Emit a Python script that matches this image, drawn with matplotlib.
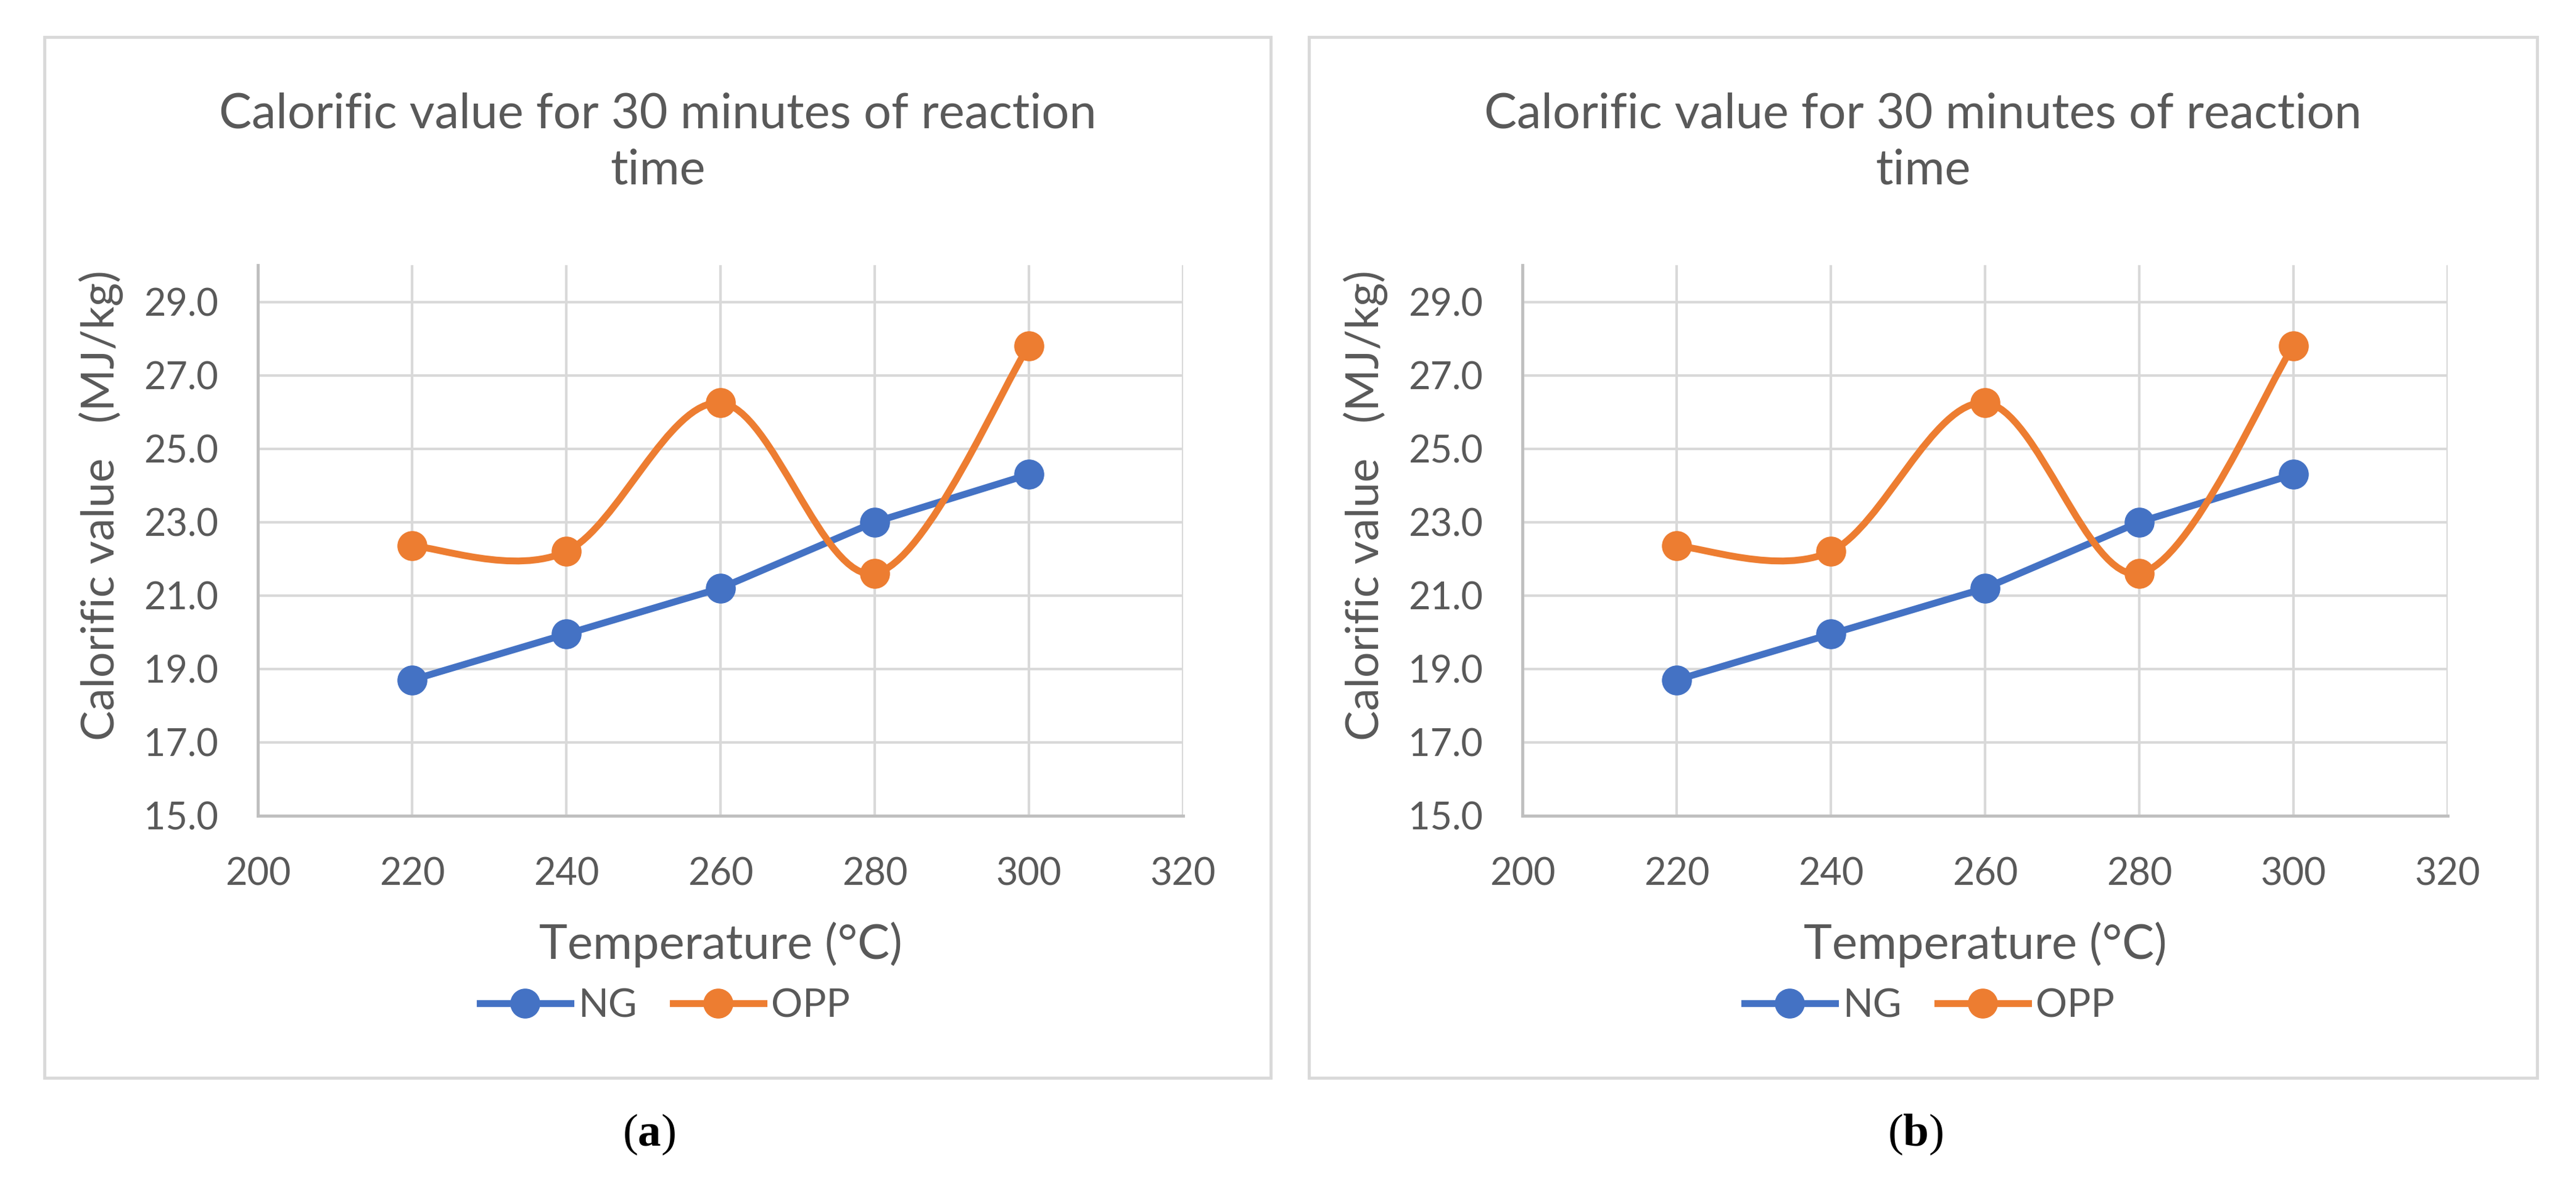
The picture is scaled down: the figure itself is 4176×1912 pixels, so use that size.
import matplotlib
matplotlib.use("Agg")
import matplotlib.pyplot as plt
from matplotlib.path import Path
from matplotlib.patches import PathPatch, Rectangle
from matplotlib.lines import Line2D

# Data
temperatures = [220, 240, 260, 280, 300]
ng_values = [18.7, 19.95, 21.2, 23.0, 24.3]
opp_values = [22.35, 22.2, 26.25, 21.6, 27.8]
series_names = ["NG", "OPP"]
x_ticks = [200, 220, 240, 260, 280, 300, 320]
y_ticks = [15.0, 17.0, 19.0, 21.0, 23.0, 25.0, 27.0, 29.0]
chart_title = "Calorific value for 30 minutes of reaction\ntime"
x_title = "Temperature (°C)"
y_title = "Calorific value   (MJ/kg)"
captions = ["a", "b"]

BLUE = "#4472C4"
ORANGE = "#ED7D31"
TEXT = "#595959"
GRID = "#D9D9D9"
AXIS = "#BFBFBF"

plt.rcParams['font.family'] = ['Lato', 'DejaVu Sans']
plt.rcParams['mathtext.fontset'] = 'custom'
plt.rcParams['mathtext.rm'] = 'Liberation Serif'
plt.rcParams['mathtext.bf'] = 'Liberation Serif:bold'

W, H = 4176, 1912
fig = plt.figure(figsize=(W / 100, H / 100), dpi=100)


def smooth_path(xs, ys):
    """Excel-style smoothed line: cubic Bezier segments through the points."""
    pts = list(zip(xs, ys))
    verts = [pts[0]]
    codes = [Path.MOVETO]
    n = len(pts)
    for i in range(n - 1):
        p0 = pts[i - 1] if i > 0 else pts[i]
        p1 = pts[i]
        p2 = pts[i + 1]
        p3 = pts[i + 2] if i + 2 < n else pts[i + 1]
        c1 = (p1[0] + (p2[0] - p0[0]) / 6, p1[1] + (p2[1] - p0[1]) / 6)
        c2 = (p2[0] - (p3[0] - p1[0]) / 6, p2[1] - (p3[1] - p1[1]) / 6)
        verts += [c1, c2, p2]
        codes += [Path.CURVE4, Path.CURVE4, Path.CURVE4]
    return Path(verts, codes)


def draw_chart(frame_left, frame_right, axes_left, caption, caption_x):
    # outer chart border
    fig.patches.append(Rectangle((frame_left / W, 1 - 1748 / H),
                                 (frame_right - frame_left) / W, (1748 - 60) / H,
                                 transform=fig.transFigure, fill=False,
                                 edgecolor=GRID, linewidth=3.5))

    ax = fig.add_axes([axes_left / W, 1 - 1323 / H, 1500 / W, 893 / H])
    ax.set_xlim(200, 320)
    ax.set_ylim(15, 30)
    ax.set_xticks(x_ticks)
    ax.set_yticks(y_ticks)
    ax.set_yticklabels([f"{v:.1f}" for v in y_ticks])
    ax.grid(True, color=GRID, linewidth=3.0)
    ax.set_axisbelow(True)
    for side in ["top", "right"]:
        ax.spines[side].set_visible(False)
    for side in ["left", "bottom"]:
        ax.spines[side].set_color(AXIS)
        ax.spines[side].set_linewidth(3.5)
    ax.tick_params(length=0, labelsize=44, labelcolor=TEXT)
    ax.tick_params(axis="y", pad=46)
    ax.tick_params(axis="x", pad=48)

    ax.plot(temperatures, ng_values, color=BLUE, linewidth=8,
            marker="o", markersize=34, zorder=3)
    ax.add_patch(PathPatch(smooth_path(temperatures, opp_values), fill=False,
                           edgecolor=ORANGE, linewidth=8, zorder=4,
                           capstyle="round"))
    ax.plot(temperatures, opp_values, color=ORANGE, linestyle="none",
            marker="o", markersize=34, zorder=5)

    ax.set_xlabel(x_title, fontsize=56, color=TEXT)
    ax.xaxis.set_label_coords(0.5, -0.192)
    ax.set_ylabel(y_title, fontsize=53, color=TEXT)
    ax.yaxis.set_label_coords(-0.145, 0.564)

    handles = [Line2D([], [], color=BLUE, linewidth=8, marker="o", markersize=34),
               Line2D([], [], color=ORANGE, linewidth=8, marker="o", markersize=34)]
    ax.legend(handles, series_names, loc="center", ncol=2, frameon=False,
              bbox_to_anchor=((axes_left + 660) / W, 1 - 1631 / H),
              bbox_transform=fig.transFigure, fontsize=46, labelcolor=TEXT,
              handlelength=2.3, handletextpad=0.2, columnspacing=0.9)

    fig.text((frame_left + frame_right) / 2 / W, 1 - 231 / H, chart_title,
             ha="center", va="center", fontsize=57, color=TEXT, linespacing=1.32)
    fig.text(caption_x / W, 1 - 1840 / H, rf"($\mathbf{{{caption}}}$)",
             ha="center", va="center", fontsize=54, color="black",
             family="Liberation Serif")


draw_chart(72, 2060, 418, captions[0], 1052)
draw_chart(2122, 4113, 2468, captions[1], 3105)

fig.savefig("out.png", dpi=100, facecolor="white")
